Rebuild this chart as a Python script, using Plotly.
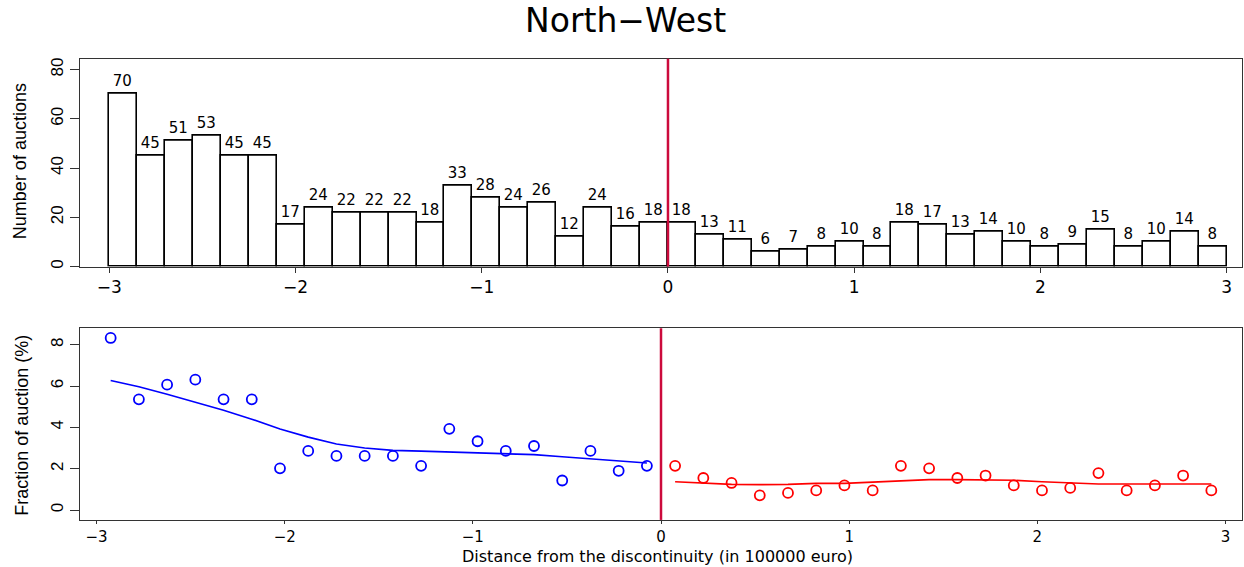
import plotly.graph_objects as go

# ---- data ----
bin_mid = [-2.925, -2.775, -2.625, -2.475, -2.325, -2.175, -2.025, -1.875, -1.725, -1.575,
           -1.425, -1.275, -1.125, -0.975, -0.825, -0.675, -0.525, -0.375, -0.225, -0.075,
           0.075, 0.225, 0.375, 0.525, 0.675, 0.825, 0.975, 1.125, 1.275, 1.425,
           1.575, 1.725, 1.875, 2.025, 2.175, 2.325, 2.475, 2.625, 2.775, 2.925]
counts = [70, 45, 51, 53, 45, 45, 17, 24, 22, 22, 22, 18, 33, 28, 24, 26, 12, 24, 16, 18,
          18, 13, 11, 6, 7, 8, 10, 8, 18, 17, 13, 14, 10, 8, 9, 15, 8, 10, 14, 8]
bin_width = 0.15

x_left = bin_mid[:20]
x_right = bin_mid[20:]
frac_left = [8.33, 5.36, 6.07, 6.31, 5.36, 5.36, 2.02, 2.86, 2.62, 2.62,
             2.62, 2.14, 3.93, 3.33, 2.86, 3.10, 1.43, 2.86, 1.90, 2.14]
frac_right = [2.14, 1.55, 1.31, 0.71, 0.83, 0.95, 1.19, 0.95, 2.14, 2.02,
              1.55, 1.67, 1.19, 0.95, 1.07, 1.79, 0.95, 1.19, 1.67, 0.95]
fit_left = [6.27, 5.97, 5.61, 5.23, 4.83, 4.40, 3.92, 3.53, 3.20, 3.00,
            2.89, 2.85, 2.81, 2.78, 2.73, 2.68, 2.58, 2.49, 2.39, 2.28]
fit_right = [1.37, 1.29, 1.24, 1.23, 1.24, 1.29, 1.29, 1.35, 1.42, 1.47,
             1.47, 1.47, 1.44, 1.37, 1.32, 1.26, 1.26, 1.26, 1.26, 1.26]

top_yticks = [0, 20, 40, 60, 80]
bot_yticks = [0, 2, 4, 6, 8]
xticks = [-3, -2, -1, 0, 1, 2, 3]

HFONT = "DejaVu Sans, Liberation Sans, Arial"
VFONT = "Liberation Sans Narrow, Liberation Sans, Arial"
CUT = "#CC0A3C"

fig = go.Figure()

fig.add_trace(go.Bar(
    x=bin_mid, y=counts, width=bin_width,
    marker=dict(color="white", line=dict(color="black", width=1.6)),
    text=[str(c) for c in counts], textposition="outside", constraintext="none",
    textfont=dict(family=HFONT, size=15, color="black"),
    cliponaxis=False, xaxis="x", yaxis="y", showlegend=False,
))

fig.add_trace(go.Scatter(x=x_left, y=fit_left, mode="lines",
                         line=dict(color="#0000FF", width=1.6),
                         xaxis="x2", yaxis="y2", showlegend=False))
fig.add_trace(go.Scatter(x=x_right, y=fit_right, mode="lines",
                         line=dict(color="#FF0000", width=1.6),
                         xaxis="x2", yaxis="y2", showlegend=False))
fig.add_trace(go.Scatter(x=x_left, y=frac_left, mode="markers",
                         marker=dict(symbol="circle-open", size=10, color="#0000FF",
                                     line=dict(width=1.8)),
                         xaxis="x2", yaxis="y2", showlegend=False, cliponaxis=False))
fig.add_trace(go.Scatter(x=x_right, y=frac_right, mode="markers",
                         marker=dict(symbol="circle-open", size=10, color="#FF0000",
                                     line=dict(width=1.8)),
                         xaxis="x2", yaxis="y2", showlegend=False, cliponaxis=False))

W, H = 1244, 567
xdom = [80 / W, 1242 / W]
ytop = [(H - 267) / H, (H - 58) / H]
ybot = [(H - 521.7) / H, (H - 329) / H]

common = dict(showgrid=False, zeroline=False, showline=True, linecolor="#333333",
              linewidth=1, mirror=True, ticks="outside",
              tickcolor="#333333", tickwidth=1)

fig.update_layout(
    width=W, height=H, margin=dict(l=0, r=0, t=0, b=0),
    paper_bgcolor="white", plot_bgcolor="white", bargap=0,
    xaxis=dict(domain=xdom, range=[-3.157, 3.082], anchor="y", tickvals=xticks, ticklen=5,
               tickfont=dict(family=HFONT, size=17, color="black"), **common),
    yaxis=dict(domain=ytop, range=[0, 84.4], anchor="x", tickvals=top_yticks, ticklen=9,
               tickangle=-90, tickfont=dict(family=VFONT, size=17, color="black"),
               **common),
    xaxis2=dict(domain=xdom, range=[-3.088, 3.088], anchor="y2", tickvals=xticks, ticklen=3,
                tickfont=dict(family=HFONT, size=15, color="black"), **common),
    yaxis2=dict(domain=ybot, range=[-0.48, 8.8], anchor="x2", tickvals=bot_yticks, ticklen=9,
                tickangle=-90, tickfont=dict(family=VFONT, size=17, color="black"),
                **common),
    shapes=[
        dict(type="line", xref="x", yref="y domain", x0=0, x1=0, y0=0, y1=1,
             line=dict(color=CUT, width=2.5)),
        dict(type="line", xref="x2", yref="y2 domain", x0=0, x1=0, y0=0, y1=1,
             line=dict(color=CUT, width=2.5)),
    ],
    annotations=[
        dict(text="North\u2212West", xref="paper", yref="paper", x=625 / W, y=(H - 20) / H,
             xanchor="center", yanchor="middle", showarrow=False,
             font=dict(family=HFONT, size=33, color="black")),
        dict(text="Distance from the discontinuity (in 100000 euro)", xref="paper",
             yref="paper", x=657 / W, y=(H - 558) / H, xanchor="center", yanchor="middle",
             showarrow=False, font=dict(family=HFONT, size=16, color="black")),
        dict(text="Number of auctions", xref="paper", yref="paper", x=20 / W,
             y=(H - 161) / H, xanchor="center", yanchor="middle", textangle=-90,
             showarrow=False, font=dict(family=VFONT, size=18, color="black")),
        dict(text="Fraction of auction (%)", xref="paper", yref="paper", x=22 / W,
             y=(H - 427) / H, xanchor="center", yanchor="middle", textangle=-90,
             showarrow=False, font=dict(family=VFONT, size=18, color="black")),
    ],
)

fig.write_html("out.html")
